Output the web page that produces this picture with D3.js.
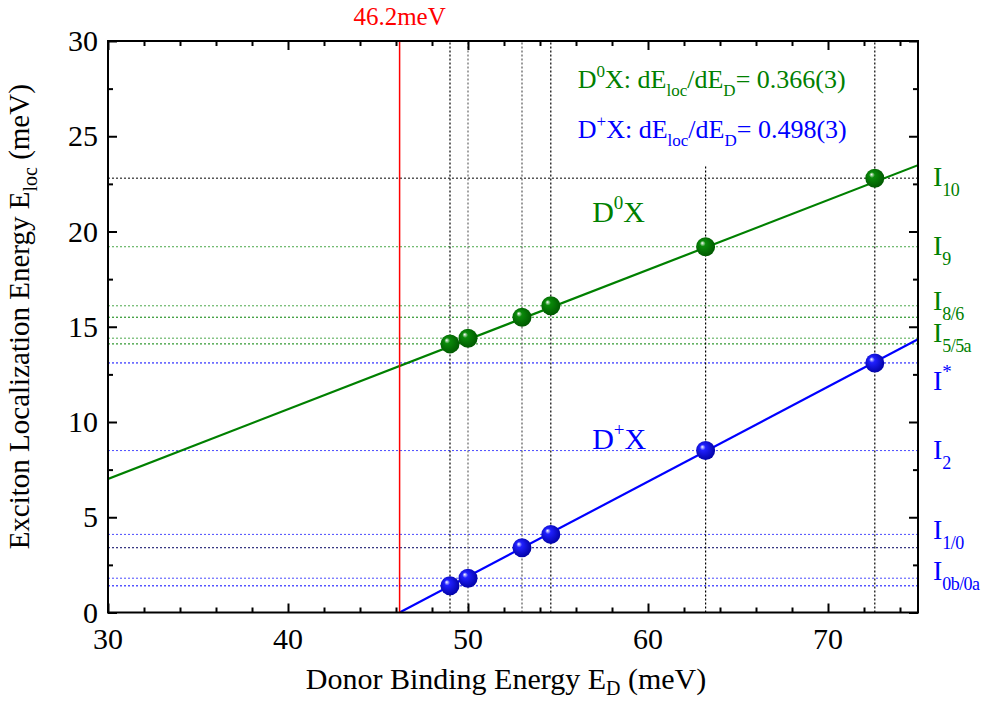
<!DOCTYPE html>
<html>
<head>
<meta charset="utf-8">
<script src="https://cdn.jsdelivr.net/npm/d3@7/dist/d3.min.js"></script>
<style>
  body { margin: 0; background: #fff; }
  svg text { font-family: "Liberation Serif", "Times New Roman", serif; }
</style>
</head>
<body>
<div id="chart"></div>
<script>
// donor binding energies (meV) of the measured lines
var donorE = [49.0, 50.0, 53.0, 54.6, 63.2, 72.6];
// localization energies for neutral and ionized donor bound excitons
var d0xE = [14.1, 14.4, 15.5, 16.1, 19.2, 22.8];
var dpxE = [1.4, 1.8, 3.4, 4.1, 8.5, 13.1];
// top end of the vertical guide lines
var guideTop = [30, 30, 30, 30, 23.5, 30];
var guideColor = ['#000', '#666', '#555', '#000', '#000', '#000'];

// horizontal guides at each line's localization energy
var levels = [22.8, 19.2, 16.1, 15.5, 14.4, 14.1, 13.1, 8.5, 4.1, 3.4, 1.8, 1.4];
var levelColor = ['#000', '#4aa84a', '#4aa84a', '#008000', '#4aa84a', '#008000',
                  '#0000ff', '#4a4aff', '#4a4aff', '#000060', '#4a4aff', '#0000ff'];

// line labels on the right side
var lineNames = [
  {base: 'I', sub: '10', sup: '', y: 22.8, c: '#008000'},
  {base: 'I', sub: '9', sup: '', y: 19.2, c: '#008000'},
  {base: 'I', sub: '8/6', sup: '', y: 16.3, c: '#008000'},
  {base: 'I', sub: '5/5a', sup: '', y: 14.6, c: '#008000'},
  {base: 'I', sub: '', sup: '*', y: 12.1, c: '#0000ff'},
  {base: 'I', sub: '2', sup: '', y: 8.5, c: '#0000ff'},
  {base: 'I', sub: '1/0', sup: '', y: 4.3, c: '#0000ff'},
  {base: 'I', sub: '0b/0a', sup: '', y: 2.1, c: '#0000ff'}
];

// fitted slopes
var slopeD0 = 0.366, slopeDp = 0.498;
var cutoff = 46.2;       // D+X intercept with zero
var d0AtCutoff = 12.94;  // D0X value at the cutoff

var xTicks = [30, 40, 50, 60, 70];
var yTicks = [0, 5, 10, 15, 20, 25, 30];

var W = 984, H = 702;
var margin = {top: 41, right: 66, bottom: 89.5, left: 108};
var width = W - margin.left - margin.right,
    height = H - margin.top - margin.bottom;

var svg = d3.select('#chart').append('svg')
  .attr('width', W).attr('height', H);

var defs = svg.append('defs');
function sphere(id, c, dark) {
  var g = defs.append('radialGradient').attr('id', id)
    .attr('cx', '0.45').attr('cy', '0.45').attr('r', '0.6')
    .attr('fx', '0.32').attr('fy', '0.3');
  g.append('stop').attr('offset', '0').attr('stop-color', '#fff');
  g.append('stop').attr('offset', '0.25').attr('stop-color', c);
  g.append('stop').attr('offset', '1').attr('stop-color', dark);
}
sphere('ballG', '#0a8a0a', '#005500');
sphere('ballB', '#2020ff', '#0000a0');

defs.append('clipPath').attr('id', 'plotClip')
  .append('rect').attr('width', width).attr('height', height);

var g = svg.append('g')
  .attr('transform', 'translate(' + margin.left + ',' + margin.top + ')');

var x = d3.scaleLinear().domain([30, 75]).range([0, width]);
var y = d3.scaleLinear().domain([0, 30]).range([height, 0]);

var plot = g.append('g').attr('clip-path', 'url(#plotClip)');

// horizontal dotted guides
plot.selectAll('.hl').data(levels).enter().append('line')
  .attr('x1', 0).attr('x2', width)
  .attr('y1', function(d) { return y(d); })
  .attr('y2', function(d) { return y(d); })
  .attr('stroke', function(d, i) { return levelColor[i]; })
  .attr('stroke-width', 1)
  .attr('stroke-dasharray', '2,2');

// vertical dotted guides
plot.selectAll('.vl').data(donorE).enter().append('line')
  .attr('x1', function(d) { return x(d); })
  .attr('x2', function(d) { return x(d); })
  .attr('y1', y(0))
  .attr('y2', function(d, i) { return y(guideTop[i]); })
  .attr('stroke', function(d, i) { return guideColor[i]; })
  .attr('stroke-width', 1.2)
  .attr('stroke-dasharray', '2,2');

// fit lines
var d0Line = [30, 75].map(function(v) { return [v, d0AtCutoff + slopeD0 * (v - cutoff)]; });
var dpLine = [cutoff, 75].map(function(v) { return [v, slopeDp * (v - cutoff)]; });
var line = d3.line().x(function(d) { return x(d[0]); }).y(function(d) { return y(d[1]); });
plot.append('path').attr('d', line(d0Line))
  .attr('stroke', '#008000').attr('stroke-width', 2.2).attr('fill', 'none');
plot.append('path').attr('d', line(dpLine))
  .attr('stroke', '#0000ff').attr('stroke-width', 2.2).attr('fill', 'none');

// 46.2 meV cutoff
g.append('line')
  .attr('x1', x(cutoff)).attr('x2', x(cutoff))
  .attr('y1', y(0)).attr('y2', y(30))
  .attr('stroke', '#ff0000').attr('stroke-width', 1.5);
g.append('text').attr('x', x(cutoff)).attr('y', -16)
  .attr('text-anchor', 'middle').attr('fill', '#ff0000')
  .attr('font-size', 25).text(cutoff + 'meV');

// data points
g.selectAll('.p0').data(donorE).enter().append('circle')
  .attr('cx', function(d) { return x(d); })
  .attr('cy', function(d, i) { return y(d0xE[i]); })
  .attr('r', 9.5).attr('fill', 'url(#ballG)');
g.selectAll('.p1').data(donorE).enter().append('circle')
  .attr('cx', function(d) { return x(d); })
  .attr('cy', function(d, i) { return y(dpxE[i]); })
  .attr('r', 9.5).attr('fill', 'url(#ballB)');

// axes with inward ticks on all four sides
function ticksInward(axisGen, tr, major, minor) {
  var a = g.append('g').attr('transform', tr);
  a.call(axisGen.tickValues(minor).tickSize(5).tickFormat(''));
  var b = g.append('g').attr('transform', tr);
  b.call(axisGen.tickValues(major).tickSize(9).tickFormat(''));
  [a, b].forEach(function(s) {
    s.select('.domain').remove();
    s.selectAll('line').attr('stroke', '#000').attr('stroke-width', 2);
  });
  return b;
}
var xMinor = d3.range(30, 76, 2).filter(function(v) { return xTicks.indexOf(v) < 0; });
var yMinor = d3.range(0, 30.1, 2.5).filter(function(v) { return yTicks.indexOf(v) < 0; });

ticksInward(d3.axisTop(x), 'translate(0,' + height + ')', xTicks, xMinor);
ticksInward(d3.axisBottom(x), 'translate(0,0)', xTicks, xMinor);
ticksInward(d3.axisRight(y), 'translate(0,0)', yTicks, yMinor);
ticksInward(d3.axisLeft(y), 'translate(' + width + ',0)', yTicks, yMinor);

// tick labels
g.selectAll('.xl').data(xTicks).enter().append('text')
  .attr('x', function(d) { return x(d); }).attr('y', height + 36)
  .attr('text-anchor', 'middle').attr('font-size', 30).text(function(d) { return d; });
g.selectAll('.yl').data(yTicks).enter().append('text')
  .attr('x', -10).attr('y', function(d) { return y(d) + 10; })
  .attr('text-anchor', 'end').attr('font-size', 30).text(function(d) { return d; });

// frame
g.append('rect').attr('width', width).attr('height', height)
  .attr('fill', 'none').attr('stroke', '#000').attr('stroke-width', 2);

// axis titles
var xt = g.append('text').attr('x', width / 2 - 7).attr('y', height + 76)
  .attr('text-anchor', 'middle').attr('font-size', 30);
xt.append('tspan').text('Donor Binding Energy E');
xt.append('tspan').attr('font-size', 20).attr('dy', 6).text('D');
xt.append('tspan').attr('dy', -6).text(' (meV)');

var yt = g.append('text')
  .attr('transform', 'translate(-79,' + (height / 2 - 10) + ') rotate(-90)')
  .attr('text-anchor', 'middle').attr('font-size', 29);
yt.append('tspan').text('Exciton Localization Energy E');
yt.append('tspan').attr('font-size', 20).attr('dy', 8).text('loc');
yt.append('tspan').attr('dy', -8).text('  (meV)');

// slope annotations
function slopeText(yPos, sup, val, col) {
  var t = g.append('text').attr('x', x(56.1)).attr('y', yPos)
    .attr('font-size', 26).attr('fill', col);
  t.append('tspan').text('D');
  t.append('tspan').attr('font-size', 17).attr('dy', -11).text(sup);
  t.append('tspan').attr('dy', 11).text('X: dE');
  t.append('tspan').attr('font-size', 17).attr('dy', 8).text('loc');
  t.append('tspan').attr('dy', -8).text('/dE');
  t.append('tspan').attr('font-size', 17).attr('dy', 8).text('D');
  t.append('tspan').attr('dy', -8).text('= ' + val);
}
slopeText(47, '0', '0.366(3)', '#008000');
slopeText(97, '+', '0.498(3)', '#0000ff');

// series labels
function seriesLabel(xv, yv, sup, col) {
  var t = g.append('text').attr('x', x(xv)).attr('y', y(yv))
    .attr('font-size', 30).attr('fill', col);
  t.append('tspan').text('D');
  t.append('tspan').attr('font-size', 19).attr('dy', -13).text(sup);
  t.append('tspan').attr('dy', 13).text('X');
}
seriesLabel(56.9, 20.5, '0', '#008000');
seriesLabel(56.9, 8.6, '+', '#0000ff');

// line names right of the frame
lineNames.forEach(function(n) {
  var t = g.append('text').attr('x', width + 15).attr('y', y(n.y) + 8)
    .attr('font-size', 28).attr('fill', n.c);
  t.append('tspan').text(n.base);
  if (n.sub) t.append('tspan').attr('font-size', 18).attr('dy', 10)
    .attr('letter-spacing', -0.6).text(n.sub);
  if (n.sup) t.append('tspan').attr('font-size', 19).attr('dy', -12).text(n.sup);
});
</script>
</body>
</html>
